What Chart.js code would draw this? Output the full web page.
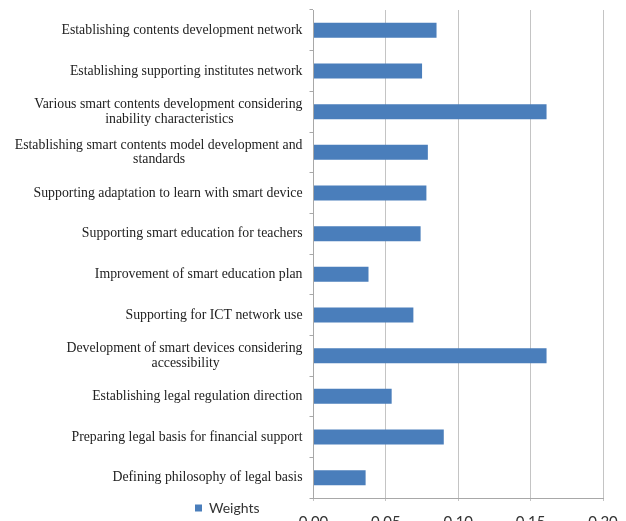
<!DOCTYPE html>
<html>
<head>
<meta charset="utf-8">
<script src="https://cdn.jsdelivr.net/npm/chart.js@4"></script>
<style>
    html, body { margin: 0; padding: 0; background: #fff; width: 626px; height: 521px; overflow: hidden; }
    #wrap { position: relative; width: 626px; height: 540px; }
</style>
</head>
<body>
<div id="wrap"><canvas id="weightsChart" width="626" height="540"></canvas></div>
<script>
// categories, top to bottom
const categories = [
    'Establishing contents development network',
    'Establishing supporting institutes network',
    ['Various smart contents development considering', 'inability characteristics'],
    ['Establishing smart contents model development and', 'standards'],
    'Supporting adaptation to learn with smart device',
    'Supporting smart education for teachers',
    'Improvement of smart education plan',
    'Supporting for ICT network use',
    ['Development of smart devices considering', 'accessibility'],
    'Establishing legal regulation direction',
    'Preparing legal basis for financial support',
    'Defining philosophy of legal basis'
];
const weights = [0.085, 0.075, 0.161, 0.079, 0.078, 0.074, 0.038, 0.069, 0.161, 0.054, 0.090, 0.036];
const xTicks = [0.00, 0.05, 0.10, 0.15, 0.20];

const labelFont = '13.8px "Liberation Serif", "Times New Roman", serif';
const measureCtx = document.createElement('canvas').getContext('2d');
measureCtx.font = labelFont;

// centre the short line under the long one by padding it with spaces
const centerLines = (label) => {
    if (!Array.isArray(label)) return label;
    const widths = label.map((line) => measureCtx.measureText(line).width);
    const maxW = Math.max(...widths);
    const spaceW = measureCtx.measureText(' ').width;
    return label.map((line, i) => {
        const n = Math.round((maxW - widths[i]) / 2 / spaceW);
        return line + ' '.repeat(n);
    });
};

// move the legend next to the x axis labels, like the original
const legendMover = {
    id: 'legendMover',
    afterLayout(chart) {
        const lg = chart.legend;
        if (!lg) return;
        lg.left = 185;
        lg.top = 491;
        lg.right = lg.left + 100;
        lg.bottom = lg.top + 40;
        lg.width = 100;
        lg.height = 40;
    }
};

new Chart(document.getElementById('weightsChart'), {
    type: 'bar',
    data: {
        labels: categories,
        datasets: [{
            label: 'Weights',
            data: weights,
            backgroundColor: '#4a7ebb',
            borderWidth: 0,
            categoryPercentage: 1,
            barPercentage: 0.37
        }]
    },
    options: {
        indexAxis: 'y',
        responsive: false,
        devicePixelRatio: 1,
        animation: false,
        layout: { padding: { top: 10, left: 13, right: 23, bottom: 0 } },
        plugins: {
            tooltip: { enabled: false },
            legend: {
                position: 'chartArea',
                align: 'start',
                labels: {
                    boxWidth: 7,
                    boxHeight: 7,
                    color: '#333',
                    font: { family: 'Lato, "Open Sans", sans-serif', size: 14 }
                }
            }
        },
        scales: {
            x: {
                min: 0,
                max: 0.2,
                afterBuildTicks: (scale) => {
                    scale.ticks = xTicks.map((v) => ({ value: v }));
                },
                afterFit: (scale) => {
                    scale.height = 42;
                    scale.paddingLeft = 0;
                    scale.paddingRight = 0;
                },
                grid: { color: '#c4c4c4', tickLength: 3, drawTicks: true },
                border: { color: '#a8a8a8' },
                ticks: {
                    padding: 12,
                    color: '#333',
                    font: { family: 'Lato, "Open Sans", sans-serif', size: 15 },
                    callback: (v) => Number(v).toFixed(2)
                }
            },
            y: {
                afterFit: (scale) => {
                    scale.width = 300.5;
                    scale.paddingTop = 0;
                    scale.paddingBottom = 0;
                },
                grid: { drawOnChartArea: false, drawTicks: true, tickLength: 4, color: '#a8a8a8' },
                border: { color: '#a8a8a8' },
                ticks: {
                    padding: 7,
                    color: '#222',
                    autoSkip: false,
                    font: { family: '"Liberation Serif", "Times New Roman", serif', size: 13.8, lineHeight: 1.05 },
                    callback: function (value) {
                        return centerLines(this.getLabelForValue(value));
                    }
                }
            }
        }
    },
    plugins: [legendMover]
});
</script>
</body>
</html>
